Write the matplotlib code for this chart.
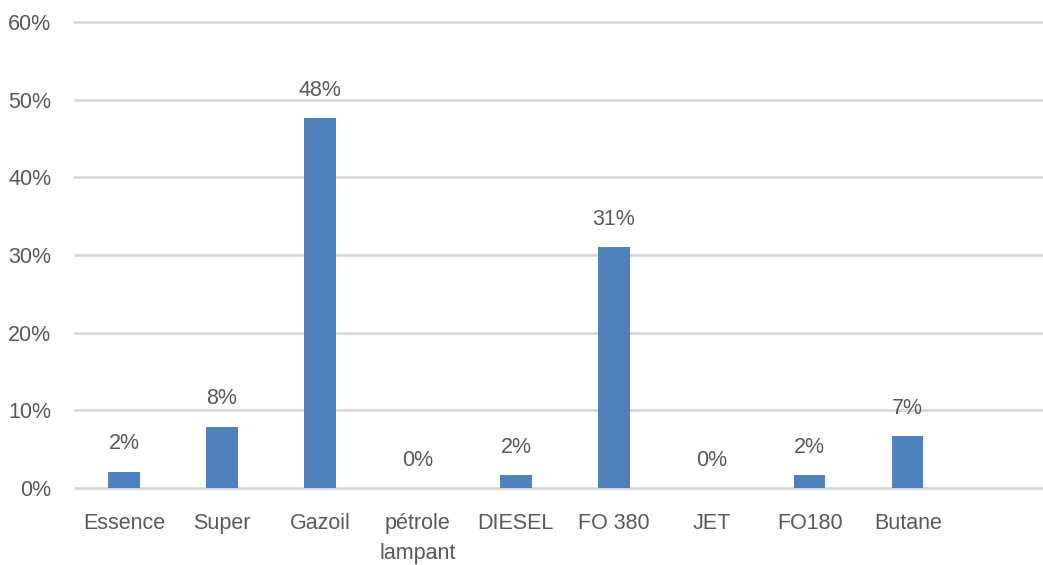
import matplotlib.pyplot as plt
from matplotlib.ticker import PercentFormatter

# données
produits = ["Essence", "Super", "Gazoil", "pétrole\nlampant", "DIESEL",
            "FO 380", "JET", "FO180", "Butane"]
parts = [0.021, 0.079, 0.476, 0.0, 0.017, 0.31, 0.0, 0.017, 0.067]
etiquettes = ["2%", "8%", "48%", "0%", "2%", "31%", "0%", "2%", "7%"]
graduations = [0, 0.1, 0.2, 0.3, 0.4, 0.5, 0.6]

plt.rcParams['font.family'] = ['Liberation Sans', 'DejaVu Sans']
gris = "#595959"
taille = 15.5

fig = plt.figure(figsize=(10.43, 5.65), dpi=100)
ax = fig.add_axes([75 / 1043, 77 / 565, 1 - 75 / 1043, 466 / 565])

x = list(range(len(produits)))
ax.bar(x, parts, width=0.32, color="#4f81bd", zorder=3)

for xi, v, txt in zip(x, parts, etiquettes):
    ax.annotate(txt, (xi, v), xytext=(0, 20), textcoords="offset points",
                ha="center", va="center", fontsize=taille, color=gris)

ax.set_xlim(-0.5, 9.38)
ax.set_ylim(0, 0.6)
ax.set_yticks(graduations)
ax.yaxis.set_major_formatter(PercentFormatter(1.0, decimals=0))
ax.set_xticks(x)
ax.set_xticklabels(produits, linespacing=1.55)

ax.tick_params(axis="both", length=0, labelsize=taille, labelcolor=gris)
ax.tick_params(axis="y", pad=17)
ax.tick_params(axis="x", pad=18)

for s in ax.spines.values():
    s.set_visible(False)
ax.grid(axis="y", color="#d9d9d9", linewidth=2, zorder=0)
for ligne in ax.get_ygridlines():
    ligne.set_clip_on(False)

fig.savefig("out.png", dpi=100)
